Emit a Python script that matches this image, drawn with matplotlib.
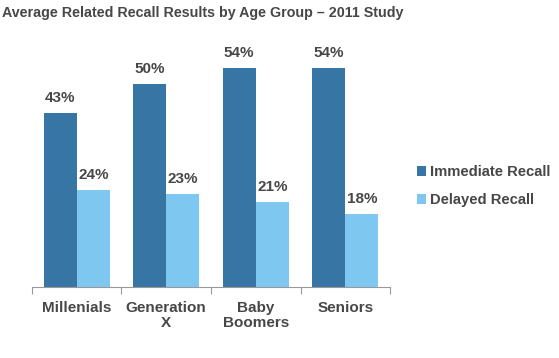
import matplotlib.pyplot as plt
import numpy as np

plt.rcParams["font.family"] = ["Liberation Sans", "DejaVu Sans"]

categories = ["Millenials", "Generation\nX", "Baby\nBoomers", "Seniors"]
immediate = [43, 50, 54, 54]
delayed = [24, 23, 21, 18]

DARK = "#3776A4"
LIGHT = "#7DC7F1"
TEXT = "#474747"
AXIS = "#999999"

fig = plt.figure(figsize=(5.59, 3.58), dpi=100)
ax = fig.add_axes([0.0572, 0.1983, 0.6405, 0.6117])

x = np.arange(len(categories))
w = 0.37
b1 = ax.bar(x - w / 2, immediate, w, color=DARK, label="Immediate Recall")
b2 = ax.bar(x + w / 2, delayed, w, color=LIGHT, label="Delayed Recall")

for bars, vals in ((b1, immediate), (b2, delayed)):
    for r, v in zip(bars, vals):
        ax.text(r.get_x() + r.get_width() / 2, v + 2.0, f"{v}%", ha="center",
                va="bottom", fontsize=11, fontweight="bold", color=TEXT)

ax.set_xlim(-0.5, len(categories) - 0.5)
ax.set_ylim(0, 54)
for s in ("top", "right", "left"):
    ax.spines[s].set_visible(False)
ax.spines["bottom"].set_color(AXIS)
ax.set_yticks([])
ax.set_xticks(np.arange(len(categories) + 1) - 0.5, minor=False)
ax.set_xticklabels([])
ax.tick_params(axis="x", length=5, color=AXIS, direction="out")
ax.set_xticks(x, minor=True)
ax.set_xticklabels(categories, minor=True, fontsize=11, fontweight="bold",
                   color=TEXT, linespacing=1.1)
ax.tick_params(axis="x", which="minor", length=0, pad=10)

fig.text(0.004, 0.965, "Average Related Recall Results by Age Group \u2013 2011 Study",
         fontsize=10.3, fontweight="bold", color=TEXT, va="center", ha="left")

leg = fig.legend(handles=[b1, b2], loc="center left", bbox_to_anchor=(0.722, 0.48),
                 frameon=False, handlelength=0.6, handleheight=0.6, handletextpad=0.3,
                 labelspacing=0.95, prop={"size": 10.6, "weight": "bold"})
for t in leg.get_texts():
    t.set_color(TEXT)

fig.savefig("out.png", dpi=100)
